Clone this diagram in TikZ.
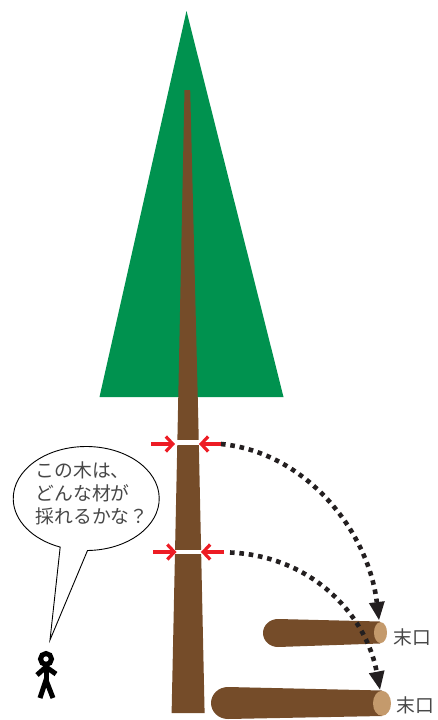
\documentclass[tikz,border=0pt]{standalone}
\usepackage{xcolor}
\usepackage{fontspec}
\newfontfamily\jpfont{Noto Sans CJK JP}[Scale=1]
\usetikzlibrary{arrows.meta}
\usetikzlibrary{shapes.geometric}
\definecolor{leaf}{HTML}{00924F}
\definecolor{bark}{HTML}{754C29}
\definecolor{cutend}{HTML}{C49A6C}
\definecolor{redmark}{HTML}{ED1C24}
\definecolor{inkdark}{HTML}{231F20}
\begin{document}
\begin{tikzpicture}[
  x=1pt, y=-1pt,
  every node/.style={align=left, font=\jpfont\fontsize{18.8}{22.8}\selectfont, text=black!72, inner sep=0pt},
  cutbar/.style={fill=white, minimum width=24pt, minimum height=4.6pt},
  redarrow/.style={draw=redmark, line width=3.2pt, -{Straight Barb[length=7pt, width=15pt, line width=3.2pt]}},
  dotarrow/.style={draw=inkdark, line width=4.6pt, dash pattern=on 4.6pt off 4.8pt, -{Triangle[length=18pt, width=16pt, line width=0pt]}},
  logside/.style={fill=bark},
  figure/.style={draw=black, line width=5pt}
]
\useasboundingbox (0,0) rectangle (437,720);
% tree
\fill[leaf] (186.5,11) -- (283.5,397) -- (99.5,397) -- cycle;
\fill[bark] (184.5,90) -- (190.2,90) -- (198.3,420) -- (204.6,713) -- (171.6,713) -- (177.8,420) -- cycle;
\node[cutbar] (cuttop) at (188,442.7) {};
\node[cutbar, minimum width=28pt] (cutbottom) at (188,552) {};
% logs
\fill[logside] (380,621.5) -- (278,619) arc[start angle=270, end angle=90, x radius=15, y radius=14] -- (380,643.5) -- cycle;
\node[fill=cutend, ellipse, minimum width=13pt, minimum height=21pt] (topshort) at (380.5,632.6) {};
\fill[logside] (382,690.5) -- (228,687) arc[start angle=270, end angle=90, x radius=17, y radius=16] -- (382,716) -- cycle;
\node[fill=cutend, ellipse, minimum width=18pt, minimum height=25pt] (toplong) at (382,703.3) {};
\node[anchor=west] (labelshort) at (393,637.5) {末口};
\node[anchor=west] (labellong) at (396.5,705.5) {末口};
% girth marks
\coordinate (leftupper) at (151,444);
\coordinate (rightupper) at (221,444);
\coordinate (leftlower) at (153,552);
\coordinate (rightlower) at (224,552);
\coordinate (tipupper) at (175,444);
\coordinate (tipupperr) at (199,444);
\coordinate (tiplower) at (176.5,552);
\coordinate (tiplowerr) at (201,552);
\draw[redarrow] (leftupper) -- (tipupper);
\draw[redarrow] (rightupper) -- (tipupperr);
\draw[redarrow] (leftlower) -- (tiplower);
\draw[redarrow] (rightlower) -- (tiplowerr);
% where each girth ends up
\coordinate (shortend) at (379,620);
\coordinate (longend) at (380,689.5);
\coordinate (lowerstart) at (230,552.5);
\draw[dotarrow] (rightupper) .. controls (305,452) and (368,530) .. (shortend);
\draw[dotarrow] (lowerstart) .. controls (312,556) and (366,615) .. (longend);
% speech bubble
\coordinate (talker) at (50,640);
\draw[fill=white, line width=0.9pt] (talker) -- (87.5,550.5) arc[start angle=89, end angle=-249.1, x radius=73, y radius=52] -- cycle;
\node[anchor=north west] (speech) at (35.5,462) {この木は、\\どんな材が\\採れるかな？};
% person
\node[draw=black, line width=5pt, circle, minimum size=11pt] (head) at (46,659) {};
\coordinate (hip) at (46,680);
\coordinate (shoulder) at (46,667);
\coordinate (handl) at (37,675);
\coordinate (handr) at (56,674);
\coordinate (footl) at (40,698);
\coordinate (footr) at (53,698);
\draw[figure] (head) -- (hip);
\draw[figure] (handl) -- (shoulder) -- (handr);
\draw[figure] (footl) -- (hip) -- (footr);
\end{tikzpicture}
\end{document}
